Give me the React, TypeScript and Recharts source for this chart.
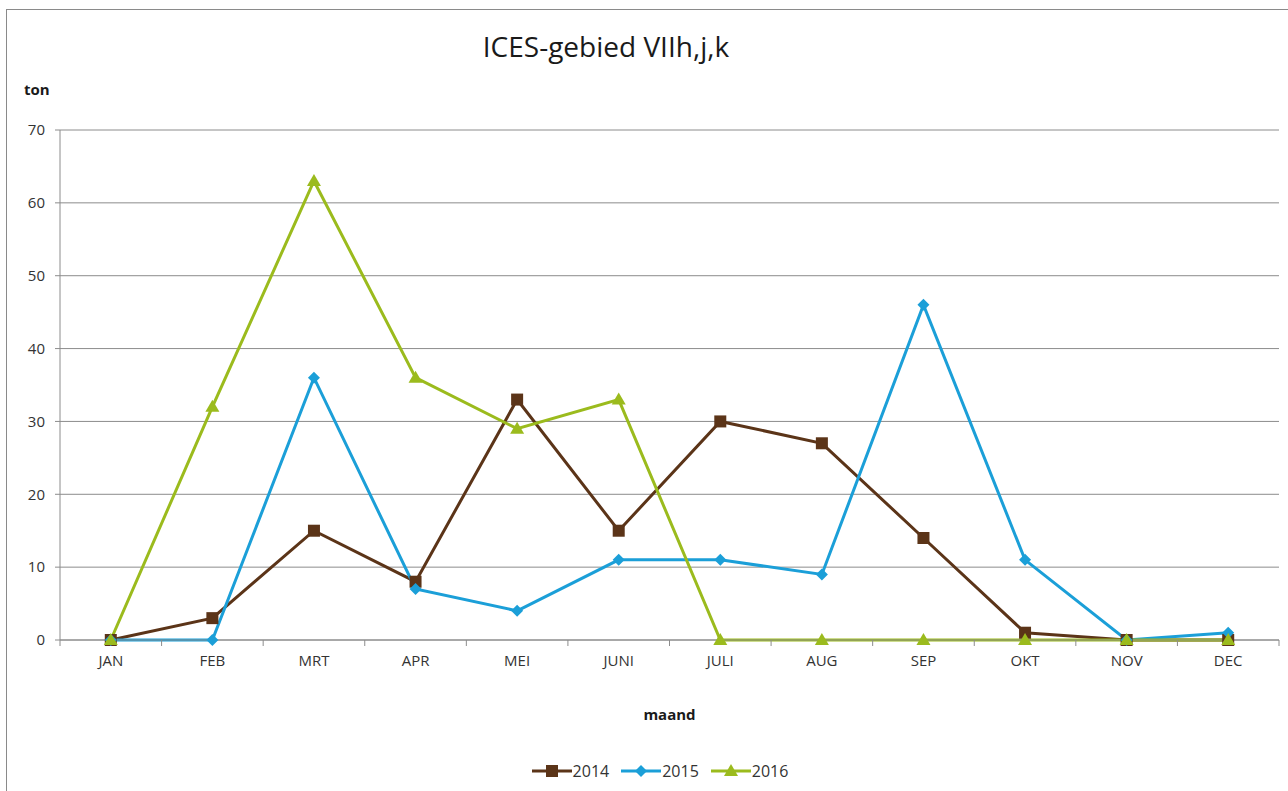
import React from 'react';
import { LineChart, Line, XAxis, YAxis, CartesianGrid, Label } from 'recharts';

const months = ['JAN', 'FEB', 'MRT', 'APR', 'MEI', 'JUNI', 'JULI', 'AUG', 'SEP', 'OKT', 'NOV', 'DEC'];
const tons2014 = [0, 3, 15, 8, 33, 15, 30, 27, 14, 1, 0, 0];
const tons2015 = [0, 0, 36, 7, 4, 11, 11, 9, 46, 11, 0, 1];
const tons2016 = [0, 32, 63, 36, 29, 33, 0, 0, 0, 0, 0, 0];
const yTicks = [0, 10, 20, 30, 40, 50, 60, 70];
const xBounds = [0, 1, 2, 3, 4, 5, 6, 7, 8, 9, 10, 11, 12];

const W = 1288;
const H = 791;
const margin = { top: 130, right: 9, bottom: 71, left: 0 };
const Y_AXIS_W = 60;
const PLOT_W = W - margin.left - margin.right - Y_AXIS_W;
const FONT = '"Open Sans", "Noto Sans", sans-serif';

const series = [
  { key: 'y2014', name: '2014', color: '#5b3418', shape: 'square' },
  { key: 'y2015', name: '2015', color: '#1b9fd8', shape: 'diamond' },
  { key: 'y2016', name: '2016', color: '#9bbb1d', shape: 'triangle' },
];

// month sits in the middle of each band, like excel's "between tick marks"
const data = months.map((m, i) => ({
  month: m,
  x: i + 0.5,
  y2014: tons2014[i],
  y2015: tons2015[i],
  y2016: tons2016[i],
}));

function Marker({ shape, cx, cy, color }: { shape: string; cx: number; cy: number; color: string }) {
  if (shape === 'square') {
    return <rect x={cx - 6} y={cy - 6} width={12} height={12} fill={color} />;
  }
  if (shape === 'diamond') {
    return <polygon points={`${cx},${cy - 6} ${cx + 6},${cy} ${cx},${cy + 6} ${cx - 6},${cy}`} fill={color} />;
  }
  return <polygon points={`${cx},${cy - 7} ${cx + 7},${cy + 5} ${cx - 7},${cy + 5}`} fill={color} />;
}

const MonthTick = (props: any) => {
  const { x, y, payload } = props;
  const idx = payload.value;
  if (idx >= months.length) return <g />;
  return (
    <text x={x + PLOT_W / 24} y={y + 14} textAnchor="middle" dominantBaseline="middle" fontSize={15} fill="#333" fontFamily={FONT}>
      {months[idx]}
    </text>
  );
};

export default function App() {
  return (
    <div style={{ position: 'absolute', left: 0, top: 0, width: W, height: H, background: '#fff', overflow: 'hidden', fontFamily: FONT }}>
      <div style={{ position: 'absolute', left: 6, top: 9, width: W + 20, height: H + 20, border: '1px solid #8a8a8a' }} />
      <div style={{ position: 'absolute', left: 0, width: 1212, top: 27, textAlign: 'center', fontSize: 28, color: '#1a1a1a' }}>
        ICES-gebied VIIh,j,k
      </div>
      <div style={{ position: 'absolute', left: 24, top: 79, fontSize: 15, fontWeight: 700, color: '#1a1a1a' }}>ton</div>

      <LineChart width={W} height={H} data={data} margin={margin} style={{ position: 'absolute', left: 0, top: 0 }}>
        <CartesianGrid horizontal vertical={false} stroke="#8c8c8c" strokeWidth={1} />
        <XAxis
          dataKey="x"
          type="number"
          domain={[0, 12]}
          ticks={xBounds}
          interval={0}
          tick={<MonthTick />}
          stroke="#8c8c8c"
          tickSize={6}
          height={80}
        >
          <Label value="maand" position="insideBottom" offset={0} style={{ fontSize: 15, fontWeight: 700, fill: '#1a1a1a', fontFamily: FONT }} />
        </XAxis>
        <YAxis
          domain={[0, 70]}
          ticks={yTicks}
          width={Y_AXIS_W}
          stroke="#8c8c8c"
          tickSize={5}
          tickMargin={10}
          tick={{ fontSize: 15, fill: '#333', fontFamily: FONT }}
        />
        {series.map((s) => (
          <Line
            key={s.key}
            dataKey={s.key}
            name={s.name}
            stroke={s.color}
            strokeWidth={3}
            isAnimationActive={false}
            dot={(p: any) => <Marker key={`${s.key}-${p.index}`} shape={s.shape} cx={p.cx} cy={p.cy} color={s.color} />}
            activeDot={false}
          />
        ))}
      </LineChart>

      <div style={{ position: 'absolute', top: 760, left: 0, width: W, display: 'flex', justifyContent: 'center' }}>
        <div style={{ display: 'flex', alignItems: 'center', gap: 12, marginLeft: 32 }}>
          {series.map((s) => (
            <div key={s.key} style={{ display: 'flex', alignItems: 'center' }}>
              <svg width={40} height={18}>
                <line x1={0} y1={9} x2={40} y2={9} stroke={s.color} strokeWidth={3} />
                <Marker shape={s.shape} cx={20} cy={9} color={s.color} />
              </svg>
              <span style={{ fontSize: 16, color: '#333', marginLeft: 1 }}>{s.name}</span>
            </div>
          ))}
        </div>
      </div>
    </div>
  );
}
